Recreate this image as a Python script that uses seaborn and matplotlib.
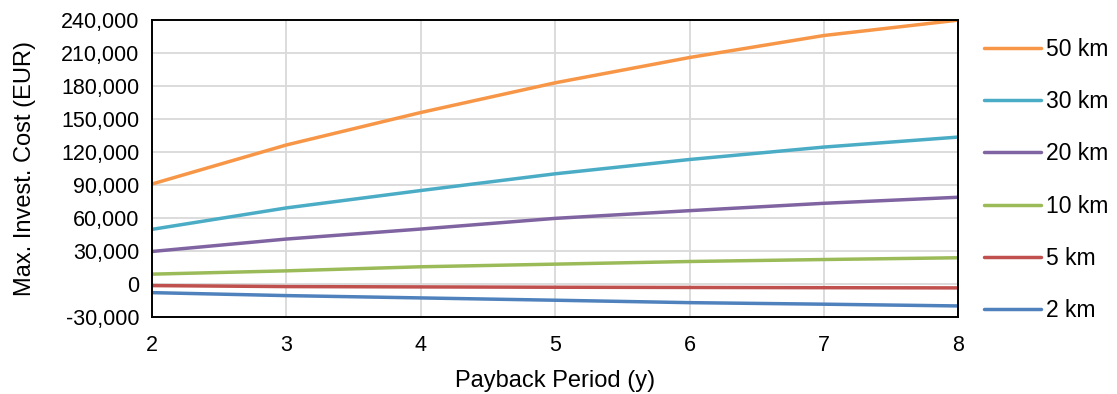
import numpy as np
import pandas as pd
import seaborn as sns
import matplotlib.pyplot as plt
from matplotlib.ticker import FuncFormatter, MultipleLocator

# payback period in years
years = [2, 3, 4, 5, 6, 7, 8]

# max. investment cost (EUR) per distance
km50 = [91000, 126500, 156000, 183000, 206000, 226000, 240000]
km30 = [49800, 69300, 85100, 100300, 113300, 124600, 133700]
km20 = [29700, 41000, 50100, 59800, 66800, 73500, 79000]
km10 = [9100, 12100, 15800, 18200, 20600, 22400, 24000]
km5 = [-1300, -2200, -2500, -2800, -3000, -3200, -3400]
km2 = [-7700, -10400, -12500, -14600, -16800, -18200, -19800]

labels = ["50 km", "30 km", "20 km", "10 km", "5 km", "2 km"]
series = [km50, km30, km20, km10, km5, km2]
colors = ["#F79646", "#4BACC6", "#8064A2", "#9BBB59", "#C0504D", "#4F81BD"]

# long form table for seaborn
rows = []
for lab, vals in zip(labels, series):
    for yr, v in zip(years, vals):
        rows.append({"year": yr, "cost": v, "dist": lab})
df = pd.DataFrame(rows)

sns.set_style("white")
plt.rcParams['font.family'] = ['Liberation Sans', 'DejaVu Sans']
plt.rcParams['font.size'] = 15
plt.rcParams['text.color'] = 'black'
plt.rcParams['axes.labelcolor'] = 'black'
plt.rcParams['xtick.color'] = 'black'
plt.rcParams['ytick.color'] = 'black'

fig = plt.figure(figsize=(11.17, 3.94), dpi=100)
ax = fig.add_axes([0.136, 0.195, 0.722, 0.754])

sns.lineplot(data=df, x="year", y="cost", hue="dist", hue_order=labels,
             palette=colors, linewidth=2.5, ax=ax, legend=True)

ax.set_xlim(2, 8)
ax.set_ylim(-30000, 240000)
ax.xaxis.set_major_locator(MultipleLocator(1))
ax.yaxis.set_major_locator(MultipleLocator(30000))
ax.yaxis.set_major_formatter(FuncFormatter(lambda v, p: f"{int(v):,}"))

ax.grid(True, color="#D9D9D9", linewidth=1.3)
ax.set_axisbelow(True)
for s in ax.spines.values():
    s.set_color("black")
    s.set_linewidth(1.4)
ax.tick_params(axis="both", direction="out", length=5, width=1.2,
               color="black", labelcolor="black", labelsize=15.5, pad=4)
ax.tick_params(axis="x", pad=8)

ax.set_xlabel("Payback Period (y)", fontsize=17, labelpad=10)
ax.set_ylabel("Max. Invest. Cost (EUR)", fontsize=17, labelpad=18)

ax.legend(loc="upper left", bbox_to_anchor=(1.02, 0.972), frameon=False,
          handlelength=2.5, labelspacing=1.28, handletextpad=0.2,
          fontsize=16.5, borderaxespad=0)

fig.savefig("out.png", dpi=100)
